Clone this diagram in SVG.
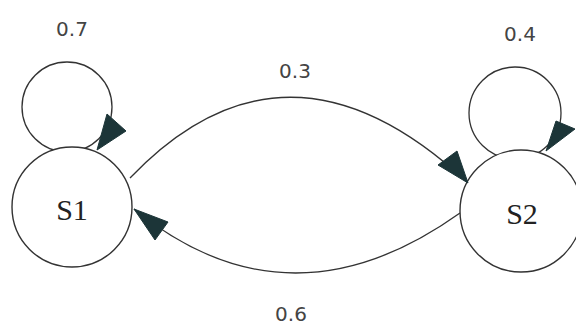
<svg xmlns="http://www.w3.org/2000/svg" width="576" height="327" viewBox="0 0 576 327">
<style>
.edge{fill:none;stroke:#333;stroke-width:1.3}
.head{fill:#1c3538;stroke:#1c3538;stroke-width:1}
.state{fill:#fff;stroke:#333;stroke-width:1.4}
.name{font-family:"Liberation Serif",serif;font-size:30px;fill:#222;text-anchor:middle}
.prob{font-family:"DejaVu Sans","Liberation Sans",sans-serif;font-size:20px;fill:#444;text-anchor:middle}
</style>
<rect width="576" height="327" fill="#fff"/>
<g id="connectors">
<circle class="edge" cx="67" cy="107" r="45"/>
<circle class="edge" cx="515" cy="113" r="46"/>
<path class="edge" d="M130 178 Q287 14 468 183"/>
<path class="edge" d="M460 213 Q289 335 134 209"/>
</g>
<g id="S1"><circle class="state" cx="72" cy="207" r="60"/><text class="name" x="72" y="220">S1</text></g>
<g id="S2"><circle class="state" cx="521" cy="211" r="61"/><text class="name" x="522" y="224">S2</text></g>
<g id="arrowheads">
<polygon class="head" points="97,150 107,114 126,131"/>
<polygon class="head" points="546,151 556,121 575,129"/>
<polygon class="head" points="468,183 438,165 457,151"/>
<polygon class="head" points="134,209 155,240 168,222"/>
</g>
<g id="labels">
<text class="prob" x="72" y="36">0.7</text>
<text class="prob" x="520" y="41">0.4</text>
<text class="prob" x="295" y="78">0.3</text>
<text class="prob" x="291" y="321">0.6</text>
</g>
</svg>
